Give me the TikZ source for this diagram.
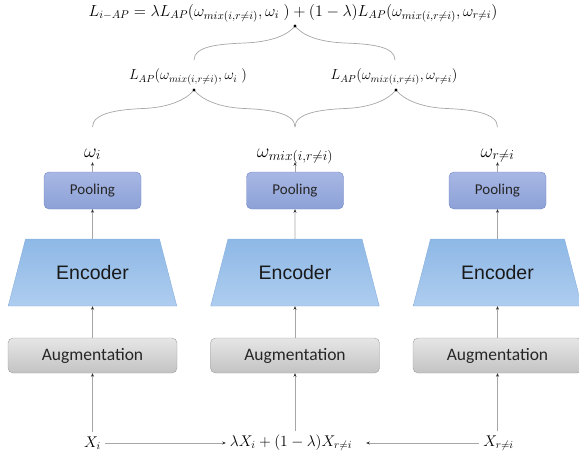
\RequirePackage{fix-cm}
\documentclass[tikz,border=0pt]{standalone}
\usepackage{fontspec}
\newfontfamily\calibrifont{Carlito}
\newfontfamily\arialfont{Liberation Sans}
\usetikzlibrary{shapes.geometric,arrows.meta,calc}
\definecolor{pooltop}{HTML}{A8B7E4}
\definecolor{poolbot}{HTML}{8CA1D7}
\definecolor{poolline}{HTML}{7186C6}
\definecolor{enctop}{HTML}{8EB8E6}
\definecolor{encbot}{HTML}{AECDEF}
\definecolor{encline}{HTML}{86AEDD}
\definecolor{augtop}{HTML}{E6E6E6}
\definecolor{augbot}{HTML}{C3C3C3}
\definecolor{augline}{HTML}{9E9E9E}
\definecolor{linegray}{HTML}{A6A6A6}
\tikzset{
  pool/.style={draw=poolline, rounded corners=5pt, top color=pooltop, bottom color=poolbot,
    minimum width=97pt, minimum height=37pt, text=black!85, font={\calibrifont\fontsize{15}{18}\selectfont}},
  enc/.style={trapezium, trapezium stretches=true, trapezium angle=64, draw=encline,
    top color=enctop, bottom color=encbot, minimum width=169pt, minimum height=67pt,
    text=black!90, font={\arialfont\fontsize{19.5}{22}\selectfont}},
  aug/.style={draw=augline, rounded corners=5pt, top color=augtop, bottom color=augbot,
    minimum width=169pt, minimum height=35pt, text=black!85, font={\calibrifont\fontsize{17.5}{20}\selectfont}},
  omega/.style={anchor=base, text height=11pt, text depth=3pt, inner sep=2pt, font=\fontsize{19.5}{22}\selectfont},
  xin/.style={font=\fontsize{15.5}{18}\selectfont, inner sep=4pt},
  loss/.style={font=\fontsize{14.5}{17}\selectfont},
  total/.style={font=\fontsize{16}{19}\selectfont},
  flow/.style={draw=linegray, line width=.7pt, -{Stealth[length=3.5pt,width=3pt,color=black!80]}},
  curly/.style={draw=linegray, line width=.7pt}
}
\newcommand\lossbrace[3]{%
  \draw[curly] (#1) .. controls +(0,-14) and +(-25,1) .. ($(#1)!.5!(#2)$)
    .. controls +(25,-1) and +(-8,10) .. (#2)
    .. controls +(8,10) and +(-25,-1) .. ($(#2)!.5!(#3)$)
    .. controls +(25,1) and +(0,-14) .. (#3);
  \fill[black] (#2) circle (1.6);
}
\begin{document}
\begin{tikzpicture}[x=1pt,y=-1pt]
\useasboundingbox (0,0) rectangle (579,459);
\foreach \x/\n/\w in {92.5/a/{\omega_i}, 295/b/{\omega_{mix(i,r\neq i)}}, 497.5/c/{\omega_{r\neq i}}}
{
	\node[aug] (aug\n) at (\x,355.5) {Augmentation};
	\node[enc] (enc\n) at (\x,272.5) {Encoder};
	\node[pool] (pool\n) at (\x,190.5) {Pooling};
	\node[omega] (w\n) at (\x,157) {$\w$};
	\draw[flow] (aug\n) -- (enc\n);
	\draw[flow] (enc\n) -- (pool\n);
	\draw[flow] (pool\n) -- (w\n);
}
\node[xin] (xa) at (92.5,443) {$X_i$};
\node[xin] (xb) at (291,443) {$\lambda X_i+(1-\lambda)X_{r\neq i}$};
\node[xin] (xc) at (498.5,443) {$X_{r\neq i}$};
\draw[flow] (xa) -- (xb);
\draw[flow] (xc) -- ([xshift=10pt]xb.east);
\draw[flow] (xa) -- (auga);
\draw[flow] (augb.south |- xb.north) -- (augb);
\draw[flow] (augc.south |- xc.north) -- (augc);
\node[loss] (lossa) at (188,77) {$L_{AP}\bigl(\omega_{mix(i,r\neq i)},\omega_i\;\bigr)$};
\node[loss] (lossb) at (394,77) {$L_{AP}\bigl(\omega_{mix(i,r\neq i)},\omega_{r\neq i}\bigr)$};
\node[total] (sum) at (293,13) {$L_{i-AP}=\lambda L_{AP}\bigl(\omega_{mix(i,r\neq i)},\omega_i\;\bigr)+(1-\lambda)L_{AP}\bigl(\omega_{mix(i,r\neq i)},\omega_{r\neq i}\bigr)$};
\coordinate (ea) at (92.5,127);
\coordinate (eb) at (295,127);
\coordinate (ec) at (497.5,127);
\coordinate (ta) at (194,90);
\coordinate (tb) at (396,90);
\coordinate (la) at (194,60);
\coordinate (lb) at (395,60);
\coordinate (tt) at (295,26);
\lossbrace{ea}{ta}{eb}
\lossbrace{eb}{tb}{ec}
\lossbrace{la}{tt}{lb}
\end{tikzpicture}
\end{document}
